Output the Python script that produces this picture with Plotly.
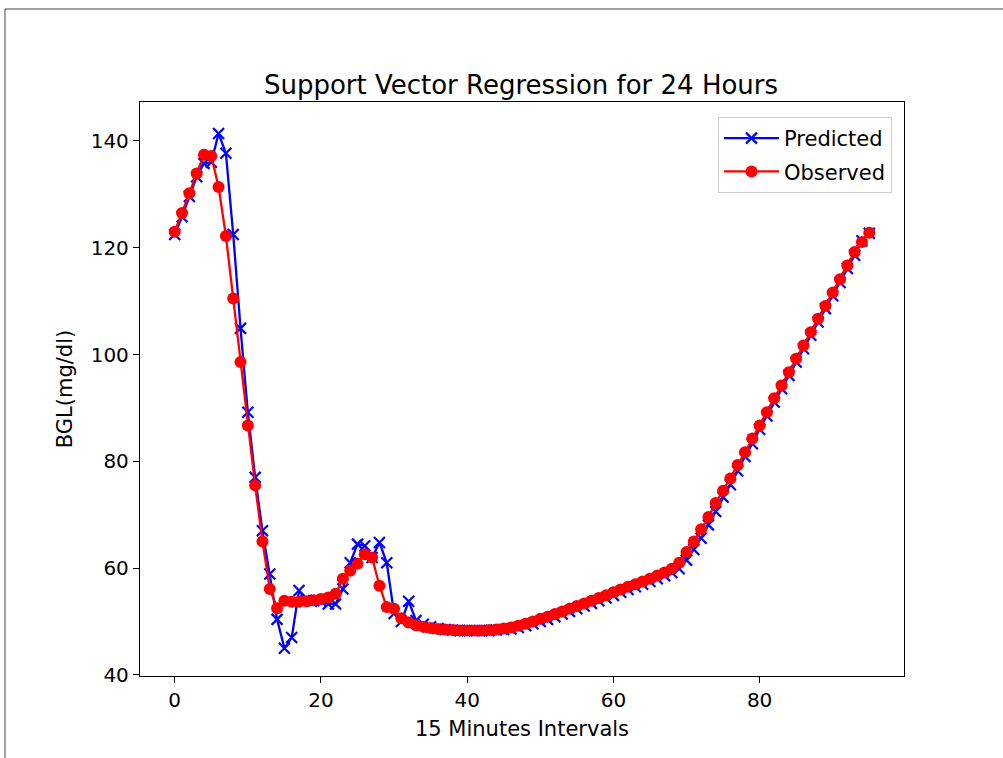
import plotly.graph_objects as go

# ---- data ----
intervals = list(range(96))

observed = [123.0, 126.5, 130.2, 133.9, 137.4, 137.2, 131.4, 122.2, 110.5, 98.6,
            86.7, 75.5, 65.0, 56.1, 52.5, 53.9, 53.7, 53.7, 53.8, 54.0,
            54.2, 54.5, 55.2, 58.0, 59.5, 60.8, 62.6, 62.0, 56.7, 52.7,
            52.4, 50.6, 49.8, 49.3, 49.0, 48.8, 48.6, 48.5, 48.4, 48.3,
            48.3, 48.3, 48.3, 48.4, 48.5, 48.7, 48.9, 49.2, 49.6, 50.0,
            50.5, 50.9, 51.4, 51.9, 52.4, 52.9, 53.4, 53.9, 54.4, 54.9,
            55.5, 56.0, 56.5, 57.0, 57.5, 58.0, 58.6, 59.2, 59.9, 61.0,
            63.0, 65.0, 67.3, 69.6, 72.2, 74.5, 76.8, 79.3, 81.7, 84.3,
            86.7, 89.2, 91.8, 94.2, 96.7, 99.2, 101.7, 104.2, 106.7, 109.1,
            111.6, 114.1, 116.7, 119.2, 121.1, 122.8]

predicted = [122.5, 125.8, 129.6, 133.3, 135.8, 136.0, 141.4, 137.7, 122.5, 104.9,
             89.2, 77.0, 67.0, 58.9, 50.4, 45.0, 47.0, 55.8, 54.0, 53.9,
             53.8, 53.3, 53.3, 56.1, 61.0, 64.5, 64.2, 62.0, 64.8, 61.0,
             51.5, 50.0, 53.8, 50.2, 49.5, 49.0, 48.7, 48.5, 48.4, 48.3,
             48.3, 48.3, 48.3, 48.3, 48.4, 48.5, 48.6, 48.9, 49.2, 49.6,
             50.0, 50.4, 50.9, 51.4, 51.9, 52.4, 52.9, 53.4, 53.9, 54.4,
             54.9, 55.5, 56.0, 56.5, 57.0, 57.5, 58.0, 58.6, 59.2, 59.9,
             61.5, 63.5, 65.6, 68.1, 70.6, 73.3, 75.6, 78.2, 80.9, 83.3,
             86.0, 88.5, 91.1, 93.6, 96.1, 98.6, 101.1, 103.6, 106.1, 108.6,
             111.0, 113.5, 116.1, 118.6, 121.3, 122.7]

x_ticks = [0, 20, 40, 60, 80]
y_ticks = [40, 60, 80, 100, 120, 140]

# ---- layout constants ----
W, H = 1003, 758
ML, MR, MT, MB = 140, 99, 102, 82
FONT = "DejaVu Sans"

xmin, xmax = min(intervals), max(intervals)
xpad = 0.05 * (xmax - xmin)

fig = go.Figure()
fig.add_trace(go.Scatter(
    x=intervals, y=predicted, name="Predicted", mode="lines+markers",
    legendgroup="p",
    line=dict(color="#0000ff", width=2.3),
    marker=dict(symbol="x-thin", size=11, line=dict(color="#0000ff", width=2.2), color="#0000ff"),
))
fig.add_trace(go.Scatter(
    x=intervals, y=observed, name="Observed", mode="lines+markers",
    legendgroup="o",
    line=dict(color="#ff0000", width=2.3),
    marker=dict(symbol="circle", size=12, color="#ff0000"),
))

pw = W - ML - MR
ph = H - MT - MB
frame_x = (5 - ML) / pw
frame_y = (H - MB - 9) / ph
fig.add_shape(type="line", xref="paper", yref="paper",
              x0=frame_x, x1=(W - ML) / pw + 0.01, y0=frame_y, y1=frame_y,
              line=dict(color="#444444", width=1))
fig.add_shape(type="line", xref="paper", yref="paper",
              x0=frame_x, x1=frame_x, y0=frame_y, y1=-MB / ph - 0.01,
              line=dict(color="#444444", width=1))

axis_common = dict(
    showline=True, linecolor="black", linewidth=1.3, mirror=True,
    ticks="outside", ticklen=6, tickwidth=1.3, tickcolor="black",
    showgrid=False, zeroline=False, automargin=False,
    tickfont=dict(family=FONT, size=20, color="black"),
)

fig.update_layout(
    width=W, height=H,
    margin=dict(l=ML, r=MR, t=MT, b=MB),
    paper_bgcolor="white", plot_bgcolor="white",
    font=dict(family=FONT, color="black"),
    title=dict(text="Support Vector Regression for 24 Hours",
               font=dict(family=FONT, size=26, color="black"),
               x=(521 - ML) / pw, xref="paper", y=1 - 85 / H, yref="container",
               xanchor="center", yanchor="middle"),
    xaxis=dict(range=[xmin - xpad, xmax + xpad], tickvals=x_ticks,
               title=dict(text="15 Minutes Intervals",
                          font=dict(family=FONT, size=21, color="black"), standoff=10),
               **axis_common),
    yaxis=dict(range=[39.8, 147.3], tickvals=y_ticks,
               title=dict(text="BGL(mg/dl)",
                          font=dict(family=FONT, size=21, color="black"), standoff=12),
               **axis_common),
    legend=dict(x=(892 - ML) / pw, y=(H - MB - 117) / ph, xanchor="right", yanchor="top",
                bgcolor="rgba(255,255,255,0.8)", bordercolor="#cccccc", borderwidth=1,
                font=dict(family=FONT, size=21, color="black"),
                itemwidth=55, tracegroupgap=3),
    showlegend=True,
)

fig.write_html("out.html", config={"displayModeBar": False},
               post_script="document.body.style.margin='0';document.body.style.overflow='hidden';")
